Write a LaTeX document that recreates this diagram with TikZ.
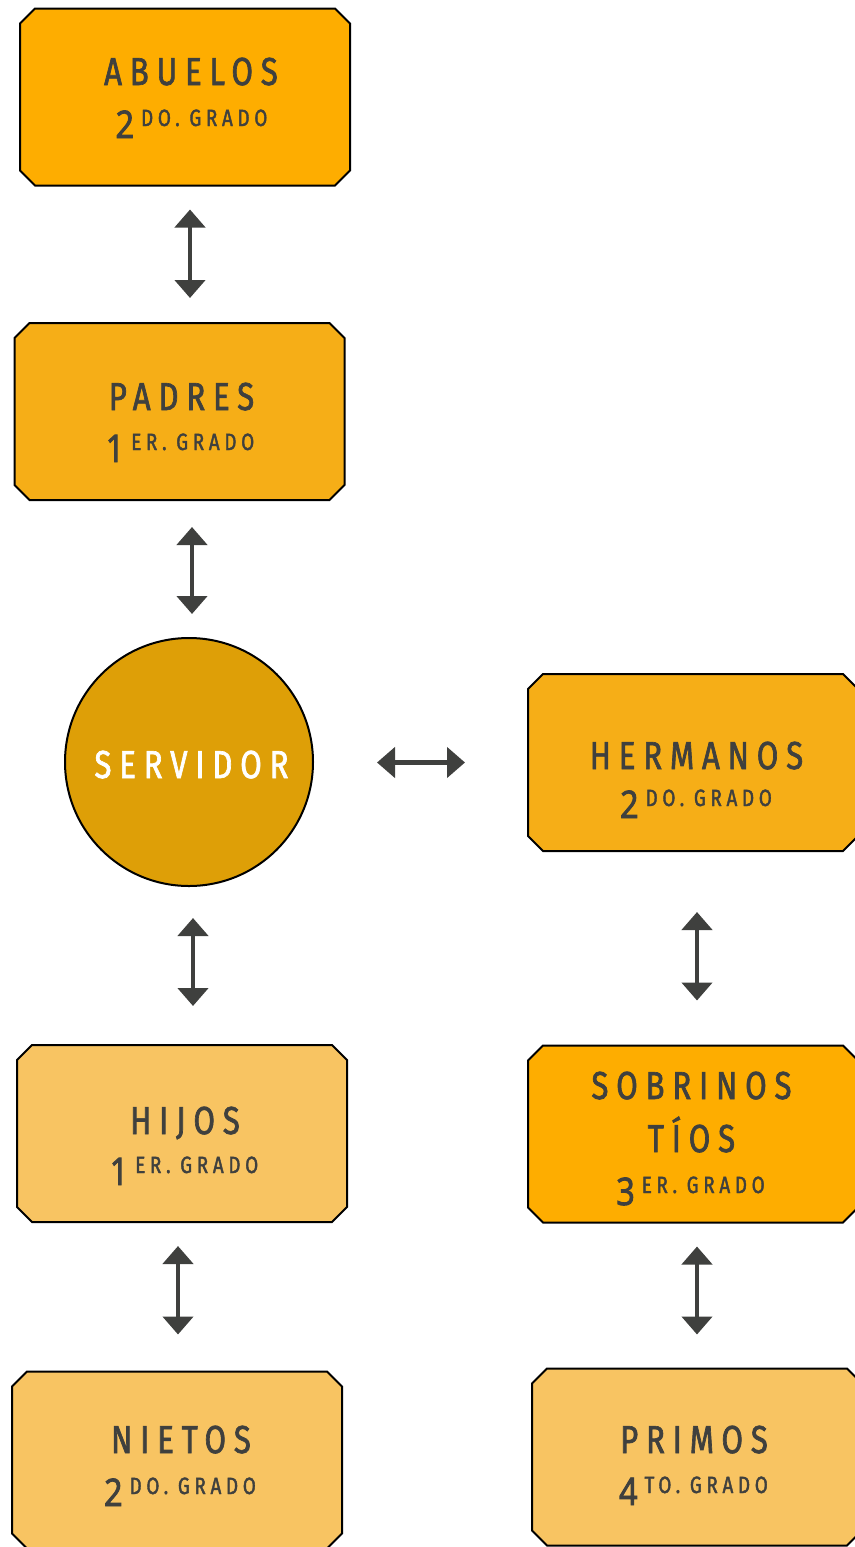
\documentclass[tikz,border=0pt]{standalone}
\usepackage{fontspec}
\usetikzlibrary{arrows.meta}
\newfontfamily\lbl[FakeStretch=0.8,LetterSpace=20,FakeBold=1.7]{Fira Sans}
\newfontfamily\dig[FakeStretch=0.85,FakeBold=2.5]{Open Sans}
\definecolor{cbright}{HTML}{FEAD00}
\definecolor{cmed}{HTML}{F6AE17}
\definecolor{clight}{HTML}{F8C462}
\definecolor{cserv}{HTML}{DE9F07}
\definecolor{ctxt}{HTML}{3F403E}
\tikzset{
  boxanchor/.style={draw=none, inner sep=0pt, outer sep=0pt, minimum width=330pt, minimum height=177pt},
  boxline/.style={draw=black, line width=2pt, line join=miter},
  maintext/.style={anchor=base, inner sep=0pt, text=ctxt, font=\lbl\fontsize{39}{39}\selectfont},
  gradotext/.style={anchor=base, inner sep=0pt, text=ctxt, font=\lbl},
  arr/.style={draw=ctxt, line width=4.5pt, {Triangle[width=30pt,length=18pt]}-{Triangle[width=30pt,length=18pt]}},
}
\newcommand{\gradotxt}[2]{{\dig\fontsize{38}{38}\selectfont #1}\hspace{7pt}\raisebox{12pt}{\fontsize{23.5}{23.5}\selectfont #2 GRADO}}
\newcommand{\chbox}[4]{%
  \node[boxanchor] (#1) at (#2,#3) {};
  \draw[boxline, fill=#4] ([xshift=15pt]#1.north west) -- ([xshift=-15pt]#1.north east)
    -- ([yshift=-15pt]#1.north east) -- ([yshift=15pt]#1.south east)
    -- ([xshift=-15pt]#1.south east) -- ([xshift=15pt]#1.south west)
    -- ([yshift=15pt]#1.south west) -- ([yshift=-15pt]#1.north west) -- cycle;
}
\begin{document}
\begin{tikzpicture}[x=1pt, y=-1pt]
\useasboundingbox (0,0) rectangle (854,1547);

% boxes
\chbox{abuelos}{185}{97}{cbright}
\chbox{padres}{179.5}{411.5}{cmed}
\chbox{hermanos}{693}{762.5}{cmed}
\chbox{hijos}{182}{1133.5}{clight}
\chbox{sobrinos}{693}{1134}{cbright}
\chbox{nietos}{177}{1460}{clight}
\chbox{primos}{697}{1457}{clight}

\node[circle, draw=black, line width=2pt, fill=cserv, minimum size=248pt, inner sep=0pt] (servidor) at (189,762) {};

% texts
\node[maintext] (abuelosT) at (191,85) {ABUELOS};
\node[gradotext] (abuelosG) at (191.5,138) {\gradotxt{2}{DO.}};
\node[maintext] (padresT) at (181.5,410) {PADRES};
\node[gradotext] (padresG) at (180,462) {\gradotxt{1}{ER.}};
\node[maintext, text=white] (servidorT) at (191.5,778) {SERVIDOR};
\node[maintext] (hermanosT) at (696.5,769) {HERMANOS};
\node[gradotext] (hermanosG) at (696,818) {\gradotxt{2}{DO.}};
\node[maintext] (hijosT) at (185,1134) {HIJOS};
\node[gradotext] (hijosG) at (184,1185) {\gradotxt{1}{ER.}};
\node[maintext] (sobrinosT) at (691.5,1099) {SOBRINOS};
\node[maintext] (tiosT) at (691.5,1152) {TÍOS};
\node[gradotext] (sobrinosG) at (690.5,1205) {\gradotxt{3}{ER.}};
\node[maintext] (nietosT) at (181,1453) {NIETOS};
\node[gradotext] (nietosG) at (180,1506) {\gradotxt{2}{DO.}};
\node[maintext] (primosT) at (694,1453) {PRIMOS};
\node[gradotext] (primosG) at (693.5,1505) {\gradotxt{4}{TO.}};

% connectors
\draw[arr, shorten <=24pt, shorten >=25pt] ([xshift=5pt]abuelos.south) -- ([xshift=10.5pt]padres.north);
\draw[arr, shorten <=27pt, shorten >=23pt] ([xshift=12.5pt]padres.south) -- ([xshift=3pt]servidor.north);
\draw[arr, shorten <=63pt, shorten >=63pt] ([yshift=-0.5pt]servidor.east) -- (hermanos.west);
\draw[arr, shorten <=31pt, shorten >=39pt] ([xshift=4pt]servidor.south) -- ([xshift=11pt]hijos.north);
\draw[arr, shorten <=61pt, shorten >=45pt] ([xshift=4pt]hermanos.south) -- ([xshift=4pt]sobrinos.north);
\draw[arr, shorten <=24pt, shorten >=37pt] ([xshift=-4pt]hijos.south) -- ([xshift=1pt]nietos.north);
\draw[arr, shorten <=24pt, shorten >=34pt] ([xshift=4pt]sobrinos.south) -- (primos.north);
\end{tikzpicture}
\end{document}
